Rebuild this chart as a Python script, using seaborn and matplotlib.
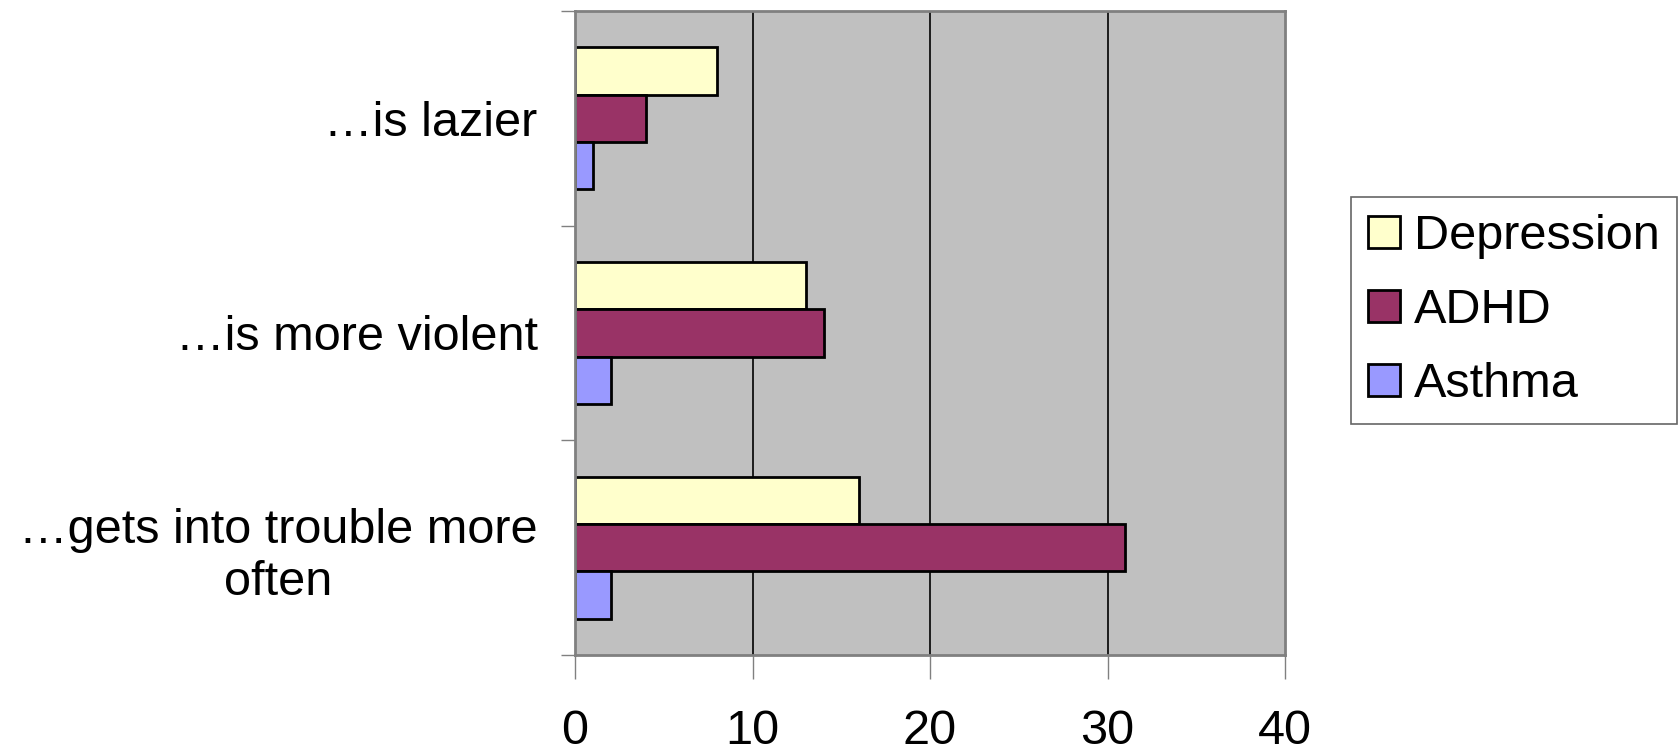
import matplotlib
matplotlib.use("Agg")
import matplotlib.pyplot as plt
import pandas as pd
import seaborn as sns

# --- data ---
categories = ["\u2026is lazier", "\u2026is more violent", "\u2026gets into trouble more\noften"]
conditions = ["Depression", "ADHD", "Asthma"]
depression = [8, 13, 16]
adhd = [4, 14, 31]
asthma = [1, 2, 2]
x_ticks = [0, 10, 20, 30, 40]
colors = ["#FFFFCC", "#993366", "#9999FF"]

df = pd.DataFrame({
    "category": categories * 3,
    "condition": [c for c in conditions for _ in categories],
    "value": depression + adhd + asthma,
})

sns.set_style("white")
plt.rcParams["font.family"] = ["Liberation Sans", "DejaVu Sans"]
plt.rcParams["text.color"] = "black"
plt.rcParams["xtick.color"] = "black"
plt.rcParams["ytick.color"] = "black"

fig = plt.figure(figsize=(16.78, 7.51), dpi=100)
ax = fig.add_axes([0.3427, 0.1278, 0.4231, 0.8576])
ax.set_facecolor("#C0C0C0")

sns.barplot(
    data=df, x="value", y="category", hue="condition",
    hue_order=conditions, order=categories, palette=colors, saturation=1,
    orient="h", width=0.66, gap=0, edgecolor="black", linewidth=2,
    ax=ax, legend=True,
)

ax.set_xlim(0, 40)
ax.set_ylim(2.5, -0.5)
ax.set_xticks(x_ticks)
ax.set_xticklabels([str(t) for t in x_ticks], fontsize=35)
ax.tick_params(axis="x", bottom=True, length=17, width=1, color="#808080",
               labelcolor="black", pad=22)
for t in x_ticks[1:-1]:
    ax.axvline(t, color="black", lw=1.2, zorder=0.5)

ax.set_yticks(range(len(categories)))
ax.set_yticklabels(categories, fontsize=35, multialignment="center")
ax.tick_params(axis="y", which="major", left=True, length=0, pad=27, labelcolor="black")
ax.set_yticks([-0.5, 0.5, 1.5, 2.5], minor=True)
ax.tick_params(axis="y", which="minor", left=True, length=10, width=1,
               color="#808080", direction="out")
ax.set_xlabel("")
ax.set_ylabel("")

for s in ax.spines.values():
    s.set_visible(True)
    s.set_color("#808080")
    s.set_linewidth(2)

handles, labels = ax.get_legend_handles_labels()
ax.legend_.remove()
leg = fig.legend(
    handles, labels, loc="upper left", bbox_to_anchor=(0.8051, 0.7377),
    bbox_transform=fig.transFigure, fontsize=35, frameon=True, fancybox=False,
    edgecolor="#404040", handlelength=0.65, handleheight=0.65, handletextpad=0.3,
    labelspacing=0.6, borderpad=0.35, borderaxespad=0,
)
leg.get_frame().set_linewidth(1.2)
for txt in leg.get_texts():
    txt.set_color("black")

fig.savefig("out.png", dpi=100)
